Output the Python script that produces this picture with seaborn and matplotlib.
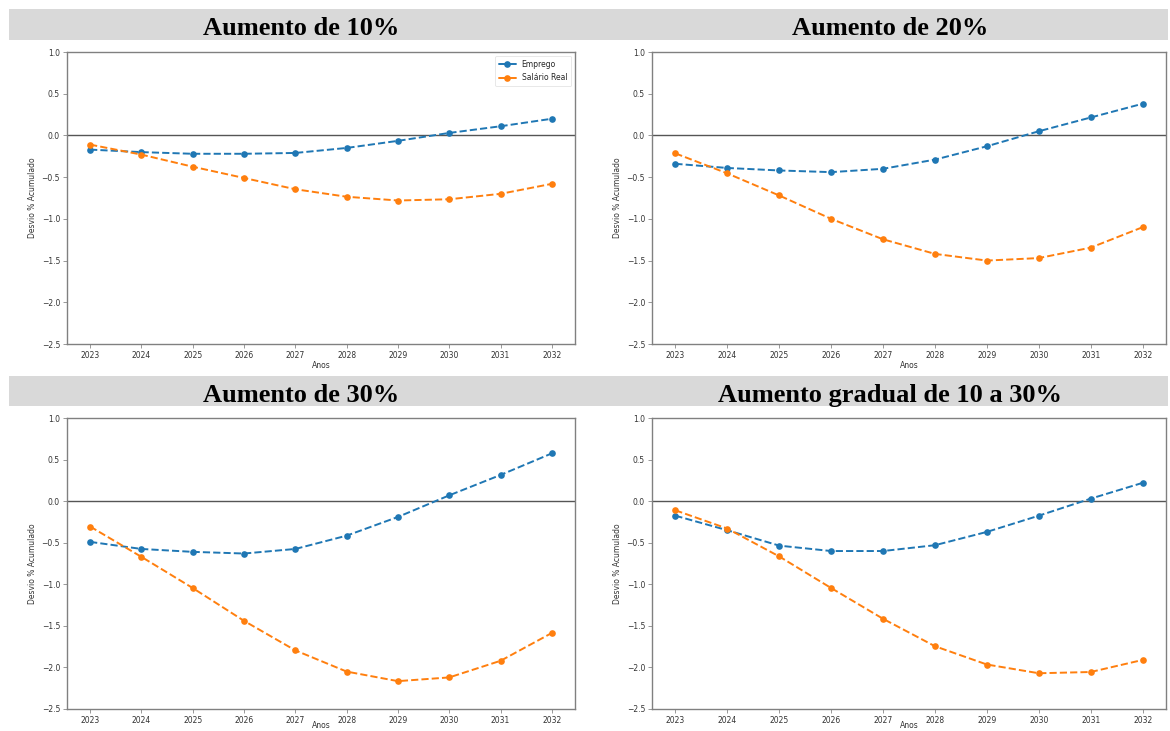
import matplotlib
matplotlib.use("Agg")
import matplotlib.pyplot as plt
from matplotlib.patches import Rectangle
import seaborn as sns
import pandas as pd

anos = [2023, 2024, 2025, 2026, 2027, 2028, 2029, 2030, 2031, 2032]

titulos = ["Aumento de 10%", "Aumento de 20%", "Aumento de 30%", "Aumento gradual de 10 a 30%"]

emprego_10 = [-0.17, -0.20, -0.22, -0.22, -0.21, -0.15, -0.065, 0.03, 0.11, 0.20]
salario_10 = [-0.11, -0.23, -0.375, -0.51, -0.645, -0.735, -0.78, -0.765, -0.70, -0.58]

emprego_20 = [-0.34, -0.39, -0.42, -0.44, -0.40, -0.29, -0.13, 0.05, 0.215, 0.38]
salario_20 = [-0.215, -0.455, -0.72, -1.00, -1.245, -1.42, -1.50, -1.47, -1.345, -1.10]

emprego_30 = [-0.49, -0.575, -0.61, -0.63, -0.575, -0.415, -0.19, 0.07, 0.315, 0.575]
salario_30 = [-0.305, -0.67, -1.045, -1.44, -1.795, -2.05, -2.165, -2.12, -1.92, -1.585]

emprego_grad = [-0.175, -0.35, -0.535, -0.60, -0.60, -0.53, -0.37, -0.175, 0.03, 0.22]
salario_grad = [-0.11, -0.33, -0.665, -1.045, -1.415, -1.745, -1.965, -2.07, -2.055, -1.91]

series_emprego = [emprego_10, emprego_20, emprego_30, emprego_grad]
series_salario = [salario_10, salario_20, salario_30, salario_grad]

yticks = [-2.5, -2.0, -1.5, -1.0, -0.5, 0.0, 0.5, 1.0]

AZUL = "#1f77b4"
LARANJA = "#ff7f0e"

sns.set_style("white")
plt.rcParams["font.family"] = ["DejaVu Sans"]

W, H = 1170, 731
fig = plt.figure(figsize=(W / 100, H / 100), dpi=100)
fig.patch.set_facecolor("white")

def fx(px):
    return px / W

def fy(py):
    return 1 - py / H

# grey title bands
for (y0, y1) in [(9, 40), (376, 406)]:
    fig.patches.append(Rectangle((fx(9), fy(y1)), fx(1168) - fx(9), fy(y0) - fy(y1),
                                 transform=fig.transFigure, facecolor="#d9d9d9",
                                 edgecolor="none", zorder=0))

# axes boxes (pixels): left, top, right, bottom
boxes = [(67, 52, 575, 344), (652, 52, 1166, 344), (67, 418, 575, 709), (652, 418, 1166, 709)]
title_pos = [(301, 35), (890, 35), (301, 402), (890, 402)]

for i, (l, t, r, b) in enumerate(boxes):
    ax = fig.add_axes([fx(l), fy(b), fx(r) - fx(l), fy(t) - fy(b)])
    df = pd.DataFrame({"Ano": anos, "Emprego": series_emprego[i], "Salário Real": series_salario[i]})
    sns.lineplot(data=df, x="Ano", y="Emprego", ax=ax, color=AZUL, marker="o", linestyle="--",
                 lw=1.4, markersize=4.8, markeredgecolor=AZUL, markeredgewidth=0, label="Emprego")
    sns.lineplot(data=df, x="Ano", y="Salário Real", ax=ax, color=LARANJA, marker="o", linestyle="--",
                 lw=1.4, markersize=4.8, markeredgecolor=LARANJA, markeredgewidth=0, label="Salário Real")
    ax.axhline(0, color="#555555", lw=1.0, zorder=1)
    ax.set_ylim(-2.5, 1.0)
    ax.set_yticks(yticks)
    ax.set_xticks(anos)
    ax.set_xticklabels([str(a) for a in anos])
    ax.set_xlabel("Anos", fontsize=5.5, color="#333333", labelpad=1 if i < 2 else -2.5)
    ax.set_ylabel("Desvio % Acumulado", fontsize=5.5, color="#333333", labelpad=3)
    ax.tick_params(axis="both", labelsize=5.5, colors="#333333", length=3, width=0.6,
                   pad=2, bottom=True, left=True)
    ax.tick_params(axis="both", color="#888888")
    for s in ax.spines.values():
        s.set_color("#808080")
        s.set_linewidth(1.0)
    if i == 0:
        leg = ax.legend(loc="upper right", fontsize=5.5, frameon=True, handlelength=2.2,
                        borderpad=0.5, labelspacing=0.6)
        leg.get_frame().set_edgecolor("#dddddd")
        leg.get_frame().set_linewidth(0.6)
        for h in leg.get_lines():
            h.set_linestyle("-")
    else:
        lg = ax.get_legend()
        if lg is not None:
            lg.remove()
    tx, ty = title_pos[i]
    fig.text(fx(tx), fy(ty), titulos[i], ha="center", va="baseline",
             fontsize=19, fontweight="bold", family=["Liberation Serif", "DejaVu Serif"],
             color="black", zorder=5)

fig.savefig("out.png", dpi=100, facecolor="white")
